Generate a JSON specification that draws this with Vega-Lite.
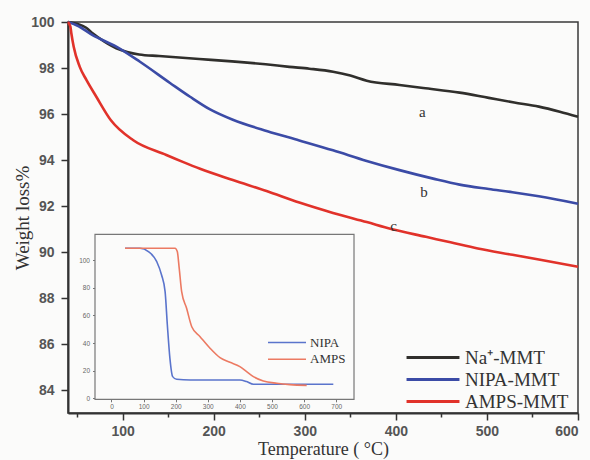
{
  "$schema": "https://vega.github.io/schema/vega-lite/v6.json",
  "width": 510,
  "height": 391,
  "autosize": {"type": "none"},
  "padding": {"left": 68, "top": 22, "right": 12, "bottom": 47},
  "background": "#fbfbfa",
  "config": {
    "view": {"stroke": "#3a3a3a", "strokeWidth": 1.5},
    "axis": {"grid": false}
  },
  "datasets": {
    "main": [
      {"series": "Na⁺-MMT", "T": 40, "w": 100},
      {"series": "Na⁺-MMT", "T": 50, "w": 99.92},
      {"series": "Na⁺-MMT", "T": 60, "w": 99.75},
      {"series": "Na⁺-MMT", "T": 67, "w": 99.51},
      {"series": "Na⁺-MMT", "T": 80, "w": 99.15},
      {"series": "Na⁺-MMT", "T": 93, "w": 98.86},
      {"series": "Na⁺-MMT", "T": 105, "w": 98.7},
      {"series": "Na⁺-MMT", "T": 118, "w": 98.59},
      {"series": "Na⁺-MMT", "T": 140, "w": 98.52},
      {"series": "Na⁺-MMT", "T": 184, "w": 98.39},
      {"series": "Na⁺-MMT", "T": 220, "w": 98.29},
      {"series": "Na⁺-MMT", "T": 257, "w": 98.16},
      {"series": "Na⁺-MMT", "T": 283, "w": 98.05},
      {"series": "Na⁺-MMT", "T": 305, "w": 97.97},
      {"series": "Na⁺-MMT", "T": 331, "w": 97.84},
      {"series": "Na⁺-MMT", "T": 350, "w": 97.67},
      {"series": "Na⁺-MMT", "T": 368, "w": 97.45},
      {"series": "Na⁺-MMT", "T": 404, "w": 97.26},
      {"series": "Na⁺-MMT", "T": 430, "w": 97.13},
      {"series": "Na⁺-MMT", "T": 470, "w": 96.93},
      {"series": "Na⁺-MMT", "T": 502, "w": 96.7},
      {"series": "Na⁺-MMT", "T": 530, "w": 96.5},
      {"series": "Na⁺-MMT", "T": 557, "w": 96.32},
      {"series": "Na⁺-MMT", "T": 580, "w": 96.1},
      {"series": "Na⁺-MMT", "T": 600, "w": 95.88},
      {"series": "NIPA-MMT", "T": 40, "w": 100},
      {"series": "NIPA-MMT", "T": 50, "w": 99.85},
      {"series": "NIPA-MMT", "T": 67, "w": 99.43},
      {"series": "NIPA-MMT", "T": 93, "w": 98.93},
      {"series": "NIPA-MMT", "T": 119, "w": 98.27},
      {"series": "NIPA-MMT", "T": 152, "w": 97.35},
      {"series": "NIPA-MMT", "T": 174, "w": 96.75},
      {"series": "NIPA-MMT", "T": 196, "w": 96.2},
      {"series": "NIPA-MMT", "T": 221, "w": 95.75},
      {"series": "NIPA-MMT", "T": 259, "w": 95.25},
      {"series": "NIPA-MMT", "T": 294, "w": 94.85},
      {"series": "NIPA-MMT", "T": 331, "w": 94.42},
      {"series": "NIPA-MMT", "T": 368, "w": 93.96},
      {"series": "NIPA-MMT", "T": 404, "w": 93.56},
      {"series": "NIPA-MMT", "T": 441, "w": 93.19},
      {"series": "NIPA-MMT", "T": 470, "w": 92.93},
      {"series": "NIPA-MMT", "T": 502, "w": 92.74},
      {"series": "NIPA-MMT", "T": 528, "w": 92.6},
      {"series": "NIPA-MMT", "T": 557, "w": 92.42},
      {"series": "NIPA-MMT", "T": 600, "w": 92.1},
      {"series": "AMPS-MMT", "T": 40, "w": 100},
      {"series": "AMPS-MMT", "T": 42.6, "w": 99.8},
      {"series": "AMPS-MMT", "T": 43.7, "w": 99.5},
      {"series": "AMPS-MMT", "T": 46.2, "w": 98.93},
      {"series": "AMPS-MMT", "T": 52.8, "w": 98.06},
      {"series": "AMPS-MMT", "T": 60.2, "w": 97.48},
      {"series": "AMPS-MMT", "T": 71.1, "w": 96.75},
      {"series": "AMPS-MMT", "T": 86.9, "w": 95.74},
      {"series": "AMPS-MMT", "T": 111.3, "w": 94.87},
      {"series": "AMPS-MMT", "T": 148, "w": 94.22},
      {"series": "AMPS-MMT", "T": 166, "w": 93.92},
      {"series": "AMPS-MMT", "T": 185, "w": 93.62},
      {"series": "AMPS-MMT", "T": 221, "w": 93.13},
      {"series": "AMPS-MMT", "T": 258, "w": 92.65},
      {"series": "AMPS-MMT", "T": 294, "w": 92.15},
      {"series": "AMPS-MMT", "T": 331, "w": 91.7},
      {"series": "AMPS-MMT", "T": 368, "w": 91.3},
      {"series": "AMPS-MMT", "T": 395, "w": 91.0},
      {"series": "AMPS-MMT", "T": 433, "w": 90.66},
      {"series": "AMPS-MMT", "T": 460, "w": 90.42},
      {"series": "AMPS-MMT", "T": 490, "w": 90.15},
      {"series": "AMPS-MMT", "T": 528, "w": 89.88},
      {"series": "AMPS-MMT", "T": 560, "w": 89.65},
      {"series": "AMPS-MMT", "T": 600, "w": 89.36}
    ],
    "labels": [
      {"label": "a", "T": 429, "w": 96.1},
      {"label": "b", "T": 431, "w": 92.62},
      {"label": "c", "T": 397.5, "w": 91.13}
    ],
    "inset": [
      {"series": "NIPA", "T": 42, "w": 108.6},
      {"series": "NIPA", "T": 89, "w": 108.6},
      {"series": "NIPA", "T": 115, "w": 106.2},
      {"series": "NIPA", "T": 141, "w": 98.9},
      {"series": "NIPA", "T": 156, "w": 89.3},
      {"series": "NIPA", "T": 167, "w": 77.2},
      {"series": "NIPA", "T": 174, "w": 53.1},
      {"series": "NIPA", "T": 182, "w": 29},
      {"series": "NIPA", "T": 190.5, "w": 15.8},
      {"series": "NIPA", "T": 203, "w": 13.9},
      {"series": "NIPA", "T": 245, "w": 13.4},
      {"series": "NIPA", "T": 400, "w": 13.4},
      {"series": "NIPA", "T": 421, "w": 12.2},
      {"series": "NIPA", "T": 442, "w": 10.3},
      {"series": "NIPA", "T": 691, "w": 10.3},
      {"series": "AMPS", "T": 42, "w": 108.6},
      {"series": "AMPS", "T": 198, "w": 108.6},
      {"series": "AMPS", "T": 205, "w": 106.2},
      {"series": "AMPS", "T": 211, "w": 94.1},
      {"series": "AMPS", "T": 218.6, "w": 77.2},
      {"series": "AMPS", "T": 234, "w": 65.2},
      {"series": "AMPS", "T": 250, "w": 51.9},
      {"series": "AMPS", "T": 276, "w": 44.7},
      {"series": "AMPS", "T": 307, "w": 36.3},
      {"series": "AMPS", "T": 338, "w": 29.5},
      {"series": "AMPS", "T": 369, "w": 26.2},
      {"series": "AMPS", "T": 400, "w": 23},
      {"series": "AMPS", "T": 421, "w": 19.4},
      {"series": "AMPS", "T": 442, "w": 15.8},
      {"series": "AMPS", "T": 473, "w": 12.7},
      {"series": "AMPS", "T": 515, "w": 11},
      {"series": "AMPS", "T": 556, "w": 10},
      {"series": "AMPS", "T": 608, "w": 9.5}
    ],
    "frame": [
      {"x1": -51.4, "x2": 755.5, "y1": -0.6, "y2": 118.7}
    ]
  },
  "layer": [
    {
      "layer": [
        {
          "data": {"name": "main"},
          "mark": {"type": "line", "strokeWidth": 2.6, "interpolate": "monotone"},
          "encoding": {
            "x": {
              "field": "T", "type": "quantitative",
              "scale": {"domain": [40, 600], "nice": false, "zero": false},
              "axis": {
                "orient": "bottom",
                "values": [50, 100, 150, 200, 250, 300, 350, 400, 450, 500, 550, 600],
                "labelExpr": "datum.value % 100 === 0 ? datum.label : ''",
                "tickSize": {"condition": {"test": "datum.value % 100 === 0", "value": 7}, "value": 4},
                "tickWidth": 1.5, "tickColor": "#333",
                "domainColor": "#333", "domainWidth": 2,
                "labelFont": "Liberation Sans", "labelFontSize": 14, "labelFontWeight": "bold",
                "labelColor": "#555", "labelPadding": 4,
                "title": "Temperature ( °C)",
                "titleFont": "Liberation Serif", "titleFontSize": 18, "titleFontWeight": "normal",
                "titleColor": "#333", "titlePadding": 2
              }
            },
            "y": {
              "field": "w", "type": "quantitative",
              "scale": {"domain": [83, 100], "nice": false, "zero": false},
              "axis": {
                "orient": "left",
                "values": [84, 85, 86, 87, 88, 89, 90, 91, 92, 93, 94, 95, 96, 97, 98, 99, 100],
                "labelExpr": "datum.value % 2 === 0 ? datum.label : ''",
                "tickSize": {"condition": {"test": "datum.value % 2 === 0", "value": 7}, "value": 4},
                "tickWidth": 1.5, "tickColor": "#333",
                "domainColor": "#333", "domainWidth": 2,
                "labelFont": "Liberation Sans", "labelFontSize": 14, "labelFontWeight": "bold",
                "labelColor": "#555", "labelPadding": 7,
                "title": "Weight loss%",
                "titleFont": "Liberation Serif", "titleFontSize": 19, "titleFontWeight": "normal",
                "titleColor": "#333", "titlePadding": -2
              }
            },
            "color": {
              "field": "series", "type": "nominal",
              "scale": {"domain": ["Na⁺-MMT", "NIPA-MMT", "AMPS-MMT"], "range": ["#302f2c", "#3b4ba6", "#e1322a"]},
              "legend": {
                "title": null, "orient": "none", "legendX": 337, "legendY": 326,
                "symbolType": "stroke", "symbolSize": 2800, "symbolStrokeWidth": 3,
                "clipHeight": 19, "rowPadding": 2, "padding": 0, "labelOffset": 4,
                "labelFont": "Liberation Serif", "labelFontSize": 19, "labelColor": "#333", "labelLimit": 300
              }
            }
          }
        },
        {
          "data": {"name": "labels"},
          "mark": {"type": "text", "font": "Liberation Serif", "fontSize": 15, "color": "#333"},
          "encoding": {
            "x": {"field": "T", "type": "quantitative"},
            "y": {"field": "w", "type": "quantitative"},
            "text": {"field": "label"}
          }
        }
      ]
    },
    {
      "layer": [
        {
          "data": {"name": "frame"},
          "mark": {"type": "rect", "fill": "#fbfbfa", "stroke": "#777", "strokeWidth": 1.2},
          "encoding": {
            "x": {
              "field": "x1", "type": "quantitative",
              "scale": {"domain": [-135.5, 1453.3], "nice": false, "zero": false},
              "axis": {
                "orient": "bottom", "offset": -13.7, "domain": false,
                "values": [0, 50, 100, 150, 200, 250, 300, 350, 400, 450, 500, 550, 600, 650, 700],
                "labelExpr": "datum.value % 100 === 0 ? datum.label : ''",
                "tickSize": 2.5, "tickColor": "#777", "tickWidth": 1,
                "labelFont": "Liberation Sans", "labelFontSize": 6.5, "labelColor": "#666", "labelPadding": 2,
                "title": null
              }
            },
            "x2": {"field": "x2"},
            "y": {
              "field": "y1", "type": "quantitative",
              "scale": {"domain": [-10.5, 272.2], "nice": false, "zero": false},
              "axis": {
                "orient": "left", "offset": -27, "domain": false,
                "values": [0, 10, 20, 30, 40, 50, 60, 70, 80, 90, 100, 110],
                "labelExpr": "datum.value % 20 === 0 ? datum.label : ''",
                "tickSize": 2.5, "tickColor": "#777", "tickWidth": 1,
                "labelFont": "Liberation Sans", "labelFontSize": 6.5, "labelColor": "#666", "labelPadding": 3,
                "title": null
              }
            },
            "y2": {"field": "y2"}
          }
        },
        {
          "data": {"name": "inset"},
          "mark": {"type": "line", "strokeWidth": 1.6, "interpolate": "monotone"},
          "encoding": {
            "x": {"field": "T", "type": "quantitative", "scale": {"domain": [-135.5, 1453.3], "nice": false, "zero": false}},
            "y": {"field": "w", "type": "quantitative", "scale": {"domain": [-10.5, 272.2], "nice": false, "zero": false}},
            "color": {
              "field": "series", "type": "nominal",
              "scale": {"domain": ["NIPA", "AMPS"], "range": ["#5a74cc", "#ec7a62"]},
              "legend": {
                "title": null, "orient": "none", "legendX": 199, "legendY": 313,
                "symbolType": "stroke", "symbolSize": 1444, "symbolStrokeWidth": 1.6,
                "clipHeight": 15, "rowPadding": 1.7, "padding": 0, "labelOffset": 3,
                "labelFont": "Liberation Serif", "labelFontSize": 13, "labelColor": "#333"
              }
            }
          }
        }
      ]
    }
  ],
  "resolve": {
    "scale": {"x": "independent", "y": "independent", "color": "independent"},
    "axis": {"x": "independent", "y": "independent"},
    "legend": {"color": "independent"}
  }
}
